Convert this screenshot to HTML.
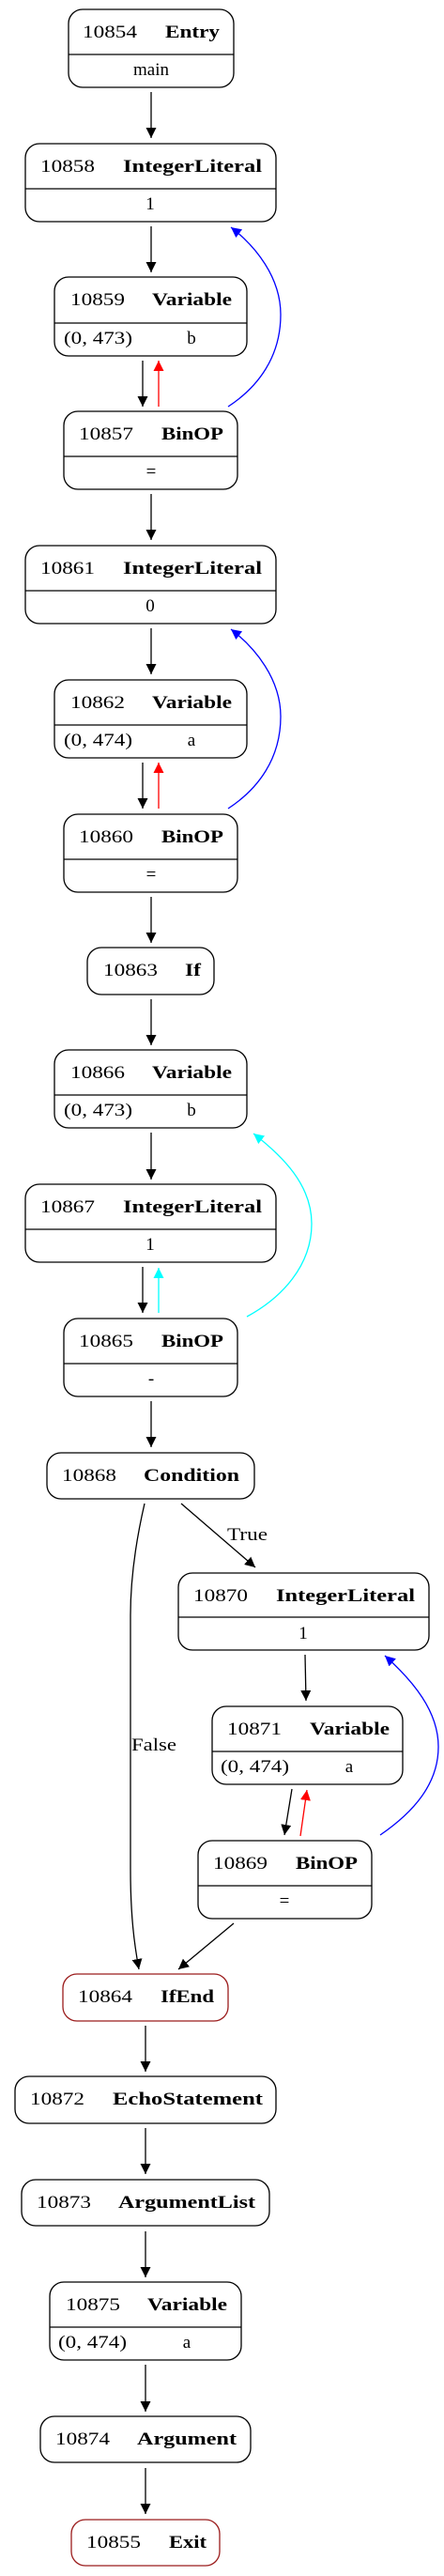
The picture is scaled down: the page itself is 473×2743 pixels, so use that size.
<!DOCTYPE html>
<html><head><meta charset="utf-8"><style>
html,body{margin:0;padding:0;background:#fff;}
svg{display:block;}
text{font-family:"Liberation Serif",serif;font-size:19px;fill:#000;}
.b{font-weight:bold;}
.n{fill:none;stroke:#000;stroke-width:1.3;}
.r{fill:none;stroke:#9b1c1c;stroke-width:1.3;}
.e{fill:none;stroke:#000;stroke-width:1.3;}
</style></head><body>
<svg width="473" height="2743" viewBox="0 0 473 2743" xmlns="http://www.w3.org/2000/svg">
<defs>
<marker id="ak" markerUnits="userSpaceOnUse" markerWidth="12" markerHeight="12" refX="11" refY="5.5" orient="auto"><path d="M0,0 L11,5.5 L0,11 z" fill="#000"/></marker>
<marker id="ar" markerUnits="userSpaceOnUse" markerWidth="12" markerHeight="12" refX="11" refY="5.5" orient="auto"><path d="M0,0 L11,5.5 L0,11 z" fill="#f00"/></marker>
<marker id="ab" markerUnits="userSpaceOnUse" markerWidth="12" markerHeight="12" refX="11" refY="5.5" orient="auto"><path d="M0,0 L11,5.5 L0,11 z" fill="#00f"/></marker>
<marker id="ac" markerUnits="userSpaceOnUse" markerWidth="12" markerHeight="12" refX="11" refY="5.5" orient="auto"><path d="M0,0 L11,5.5 L0,11 z" fill="#0ff"/></marker>
</defs>

<!-- Entry -->
<rect class="n" x="73" y="10" width="176" height="83" rx="15"/>
<line class="n" x1="73" y1="58" x2="249" y2="58"/>
<text x="88" y="40" textLength="58" lengthAdjust="spacingAndGlyphs">10854</text>
<text class="b" x="176" y="40" textLength="58" lengthAdjust="spacingAndGlyphs">Entry</text>
<text x="161" y="80" text-anchor="middle">main</text>

<!-- 10858 -->
<rect class="n" x="27" y="153" width="267" height="83" rx="15"/>
<line class="n" x1="27" y1="201" x2="294" y2="201"/>
<text x="43" y="183" textLength="58" lengthAdjust="spacingAndGlyphs">10858</text>
<text class="b" x="131" y="183" textLength="148" lengthAdjust="spacingAndGlyphs">IntegerLiteral</text>
<text x="160" y="223" text-anchor="middle">1</text>

<!-- 10859 -->
<rect class="n" x="58" y="295" width="205" height="84" rx="15"/>
<line class="n" x1="58" y1="344" x2="263" y2="344"/>
<text x="75" y="325" textLength="58" lengthAdjust="spacingAndGlyphs">10859</text>
<text class="b" x="162" y="325" textLength="85" lengthAdjust="spacingAndGlyphs">Variable</text>
<text x="68" y="366" textLength="73" lengthAdjust="spacingAndGlyphs">(0, 473)</text>
<text x="204" y="366" text-anchor="middle">b</text>

<!-- 10857 -->
<rect class="n" x="68" y="438" width="185" height="83" rx="15"/>
<line class="n" x1="68" y1="486" x2="253" y2="486"/>
<text x="84" y="468" textLength="58" lengthAdjust="spacingAndGlyphs">10857</text>
<text class="b" x="172" y="468" textLength="66" lengthAdjust="spacingAndGlyphs">BinOP</text>
<text x="161" y="508" text-anchor="middle">=</text>

<!-- 10861 -->
<rect class="n" x="27" y="581" width="267" height="83" rx="15"/>
<line class="n" x1="27" y1="629" x2="294" y2="629"/>
<text x="43" y="611" textLength="58" lengthAdjust="spacingAndGlyphs">10861</text>
<text class="b" x="131" y="611" textLength="148" lengthAdjust="spacingAndGlyphs">IntegerLiteral</text>
<text x="160" y="651" text-anchor="middle">0</text>

<!-- 10862 -->
<rect class="n" x="58" y="724" width="205" height="83" rx="15"/>
<line class="n" x1="58" y1="772" x2="263" y2="772"/>
<text x="75" y="754" textLength="58" lengthAdjust="spacingAndGlyphs">10862</text>
<text class="b" x="162" y="754" textLength="85" lengthAdjust="spacingAndGlyphs">Variable</text>
<text x="68" y="794" textLength="73" lengthAdjust="spacingAndGlyphs">(0, 474)</text>
<text x="204" y="794" text-anchor="middle">a</text>

<!-- 10860 -->
<rect class="n" x="68" y="867" width="185" height="83" rx="15"/>
<line class="n" x1="68" y1="915" x2="253" y2="915"/>
<text x="84" y="897" textLength="58" lengthAdjust="spacingAndGlyphs">10860</text>
<text class="b" x="172" y="897" textLength="66" lengthAdjust="spacingAndGlyphs">BinOP</text>
<text x="161" y="937" text-anchor="middle">=</text>

<!-- If -->
<rect class="n" x="93" y="1009" width="135" height="50" rx="15"/>
<text x="110" y="1039" textLength="58" lengthAdjust="spacingAndGlyphs">10863</text>
<text class="b" x="197" y="1039" textLength="17" lengthAdjust="spacingAndGlyphs">If</text>

<!-- 10866 -->
<rect class="n" x="58" y="1118" width="205" height="83" rx="15"/>
<line class="n" x1="58" y1="1166" x2="263" y2="1166"/>
<text x="75" y="1148" textLength="58" lengthAdjust="spacingAndGlyphs">10866</text>
<text class="b" x="162" y="1148" textLength="85" lengthAdjust="spacingAndGlyphs">Variable</text>
<text x="68" y="1188" textLength="73" lengthAdjust="spacingAndGlyphs">(0, 473)</text>
<text x="204" y="1188" text-anchor="middle">b</text>

<!-- 10867 -->
<rect class="n" x="27" y="1261" width="267" height="83" rx="15"/>
<line class="n" x1="27" y1="1309" x2="294" y2="1309"/>
<text x="43" y="1291" textLength="58" lengthAdjust="spacingAndGlyphs">10867</text>
<text class="b" x="131" y="1291" textLength="148" lengthAdjust="spacingAndGlyphs">IntegerLiteral</text>
<text x="160" y="1331" text-anchor="middle">1</text>

<!-- 10865 -->
<rect class="n" x="68" y="1404" width="185" height="83" rx="15"/>
<line class="n" x1="68" y1="1452" x2="253" y2="1452"/>
<text x="84" y="1434" textLength="58" lengthAdjust="spacingAndGlyphs">10865</text>
<text class="b" x="172" y="1434" textLength="66" lengthAdjust="spacingAndGlyphs">BinOP</text>
<text x="161" y="1474" text-anchor="middle">-</text>

<!-- Condition -->
<rect class="n" x="50" y="1547" width="221" height="49" rx="15"/>
<text x="66" y="1577" textLength="58" lengthAdjust="spacingAndGlyphs">10868</text>
<text class="b" x="153" y="1577" textLength="102" lengthAdjust="spacingAndGlyphs">Condition</text>

<!-- 10870 -->
<rect class="n" x="190" y="1675" width="267" height="82" rx="15"/>
<line class="n" x1="190" y1="1722" x2="457" y2="1722"/>
<text x="206" y="1705" textLength="58" lengthAdjust="spacingAndGlyphs">10870</text>
<text class="b" x="294" y="1705" textLength="148" lengthAdjust="spacingAndGlyphs">IntegerLiteral</text>
<text x="323" y="1745" text-anchor="middle">1</text>

<!-- 10871 -->
<rect class="n" x="226" y="1817" width="203" height="83" rx="15"/>
<line class="n" x1="226" y1="1865" x2="429" y2="1865"/>
<text x="242" y="1847" textLength="58" lengthAdjust="spacingAndGlyphs">10871</text>
<text class="b" x="330" y="1847" textLength="85" lengthAdjust="spacingAndGlyphs">Variable</text>
<text x="235" y="1887" textLength="73" lengthAdjust="spacingAndGlyphs">(0, 474)</text>
<text x="372" y="1887" text-anchor="middle">a</text>

<!-- 10869 -->
<rect class="n" x="211" y="1960" width="185" height="83" rx="15"/>
<line class="n" x1="211" y1="2008" x2="396" y2="2008"/>
<text x="227" y="1990" textLength="58" lengthAdjust="spacingAndGlyphs">10869</text>
<text class="b" x="315" y="1990" textLength="66" lengthAdjust="spacingAndGlyphs">BinOP</text>
<text x="303" y="2030" text-anchor="middle">=</text>

<!-- IfEnd -->
<rect class="r" x="67" y="2102" width="176" height="50" rx="15"/>
<text x="83" y="2132" textLength="58" lengthAdjust="spacingAndGlyphs">10864</text>
<text class="b" x="171" y="2132" textLength="57" lengthAdjust="spacingAndGlyphs">IfEnd</text>

<!-- Echo -->
<rect class="n" x="16" y="2211" width="278" height="50" rx="15"/>
<text x="32" y="2241" textLength="58" lengthAdjust="spacingAndGlyphs">10872</text>
<text class="b" x="120" y="2241" textLength="160" lengthAdjust="spacingAndGlyphs">EchoStatement</text>

<!-- ArgList -->
<rect class="n" x="23" y="2321" width="264" height="49" rx="15"/>
<text x="39" y="2351" textLength="58" lengthAdjust="spacingAndGlyphs">10873</text>
<text class="b" x="126" y="2351" textLength="146" lengthAdjust="spacingAndGlyphs">ArgumentList</text>

<!-- 10875 -->
<rect class="n" x="53" y="2430" width="204" height="83" rx="15"/>
<line class="n" x1="53" y1="2478" x2="257" y2="2478"/>
<text x="70" y="2460" textLength="58" lengthAdjust="spacingAndGlyphs">10875</text>
<text class="b" x="157" y="2460" textLength="85" lengthAdjust="spacingAndGlyphs">Variable</text>
<text x="62" y="2500" textLength="73" lengthAdjust="spacingAndGlyphs">(0, 474)</text>
<text x="199" y="2500" text-anchor="middle">a</text>

<!-- Argument -->
<rect class="n" x="43" y="2573" width="224" height="49" rx="15"/>
<text x="59" y="2603" textLength="58" lengthAdjust="spacingAndGlyphs">10874</text>
<text class="b" x="146" y="2603" textLength="106" lengthAdjust="spacingAndGlyphs">Argument</text>

<!-- Exit -->
<rect class="r" x="76" y="2683" width="158" height="49" rx="15"/>
<text x="92" y="2713" textLength="58" lengthAdjust="spacingAndGlyphs">10855</text>
<text class="b" x="180" y="2713" textLength="40" lengthAdjust="spacingAndGlyphs">Exit</text>

<!-- edges -->
<line class="e" x1="161" y1="98" x2="161" y2="147" marker-end="url(#ak)"/>
<line class="e" x1="161" y1="241" x2="161" y2="290" marker-end="url(#ak)"/>
<line class="e" x1="152" y1="384" x2="152" y2="433" marker-end="url(#ak)"/>
<line x1="169" y1="433" x2="169" y2="384" stroke="#f00" stroke-width="1.3" marker-end="url(#ar)"/>
<path d="M243,433 C275,412 299,380 299,335 C299,295 272,262 246,242" fill="none" stroke="#00f" stroke-width="1.3" marker-end="url(#ab)"/>
<line class="e" x1="161" y1="526" x2="161" y2="575" marker-end="url(#ak)"/>
<line class="e" x1="161" y1="669" x2="161" y2="718" marker-end="url(#ak)"/>
<line class="e" x1="152" y1="812" x2="152" y2="861" marker-end="url(#ak)"/>
<line x1="169" y1="861" x2="169" y2="812" stroke="#f00" stroke-width="1.3" marker-end="url(#ar)"/>
<path d="M243,861 C275,840 299,808 299,763 C299,723 272,690 246,670" fill="none" stroke="#00f" stroke-width="1.3" marker-end="url(#ab)"/>
<line class="e" x1="161" y1="955" x2="161" y2="1004" marker-end="url(#ak)"/>
<line class="e" x1="161" y1="1064" x2="161" y2="1113" marker-end="url(#ak)"/>
<line class="e" x1="161" y1="1206" x2="161" y2="1256" marker-end="url(#ak)"/>
<line class="e" x1="152" y1="1349" x2="152" y2="1398" marker-end="url(#ak)"/>
<line x1="169" y1="1398" x2="169" y2="1350" stroke="#0ff" stroke-width="1.3" marker-end="url(#ac)"/>
<path d="M263,1402 C300,1382 332,1348 332,1303 C332,1262 302,1232 270,1207" fill="none" stroke="#0ff" stroke-width="1.3" marker-end="url(#ac)"/>
<line class="e" x1="161" y1="1492" x2="161" y2="1541" marker-end="url(#ak)"/>
<line class="e" x1="193" y1="1601" x2="272" y2="1669" marker-end="url(#ak)"/>
<text x="242" y="1640" textLength="43" lengthAdjust="spacingAndGlyphs">True</text>
<path class="e" d="M154,1601 C145,1640 139,1680 139,1720 L139,1990 C139,2040 143,2070 148,2097" marker-end="url(#ak)"/>
<text x="140" y="1864" textLength="48" lengthAdjust="spacingAndGlyphs">False</text>
<line class="e" x1="325" y1="1762" x2="326" y2="1811" marker-end="url(#ak)"/>
<line class="e" x1="311" y1="1905" x2="303" y2="1954" marker-end="url(#ak)"/>
<line x1="320" y1="1955" x2="327" y2="1906" stroke="#f00" stroke-width="1.3" marker-end="url(#ar)"/>
<path d="M405,1954 C440,1930 467,1900 467,1860 C467,1822 440,1790 410,1763" fill="none" stroke="#00f" stroke-width="1.3" marker-end="url(#ab)"/>
<line class="e" x1="249" y1="2048" x2="190" y2="2097" marker-end="url(#ak)"/>
<line class="e" x1="155" y1="2157" x2="155" y2="2206" marker-end="url(#ak)"/>
<line class="e" x1="155" y1="2266" x2="155" y2="2315" marker-end="url(#ak)"/>
<line class="e" x1="155" y1="2376" x2="155" y2="2425" marker-end="url(#ak)"/>
<line class="e" x1="155" y1="2518" x2="155" y2="2568" marker-end="url(#ak)"/>
<line class="e" x1="155" y1="2628" x2="155" y2="2677" marker-end="url(#ak)"/>
</svg>
</body></html>
